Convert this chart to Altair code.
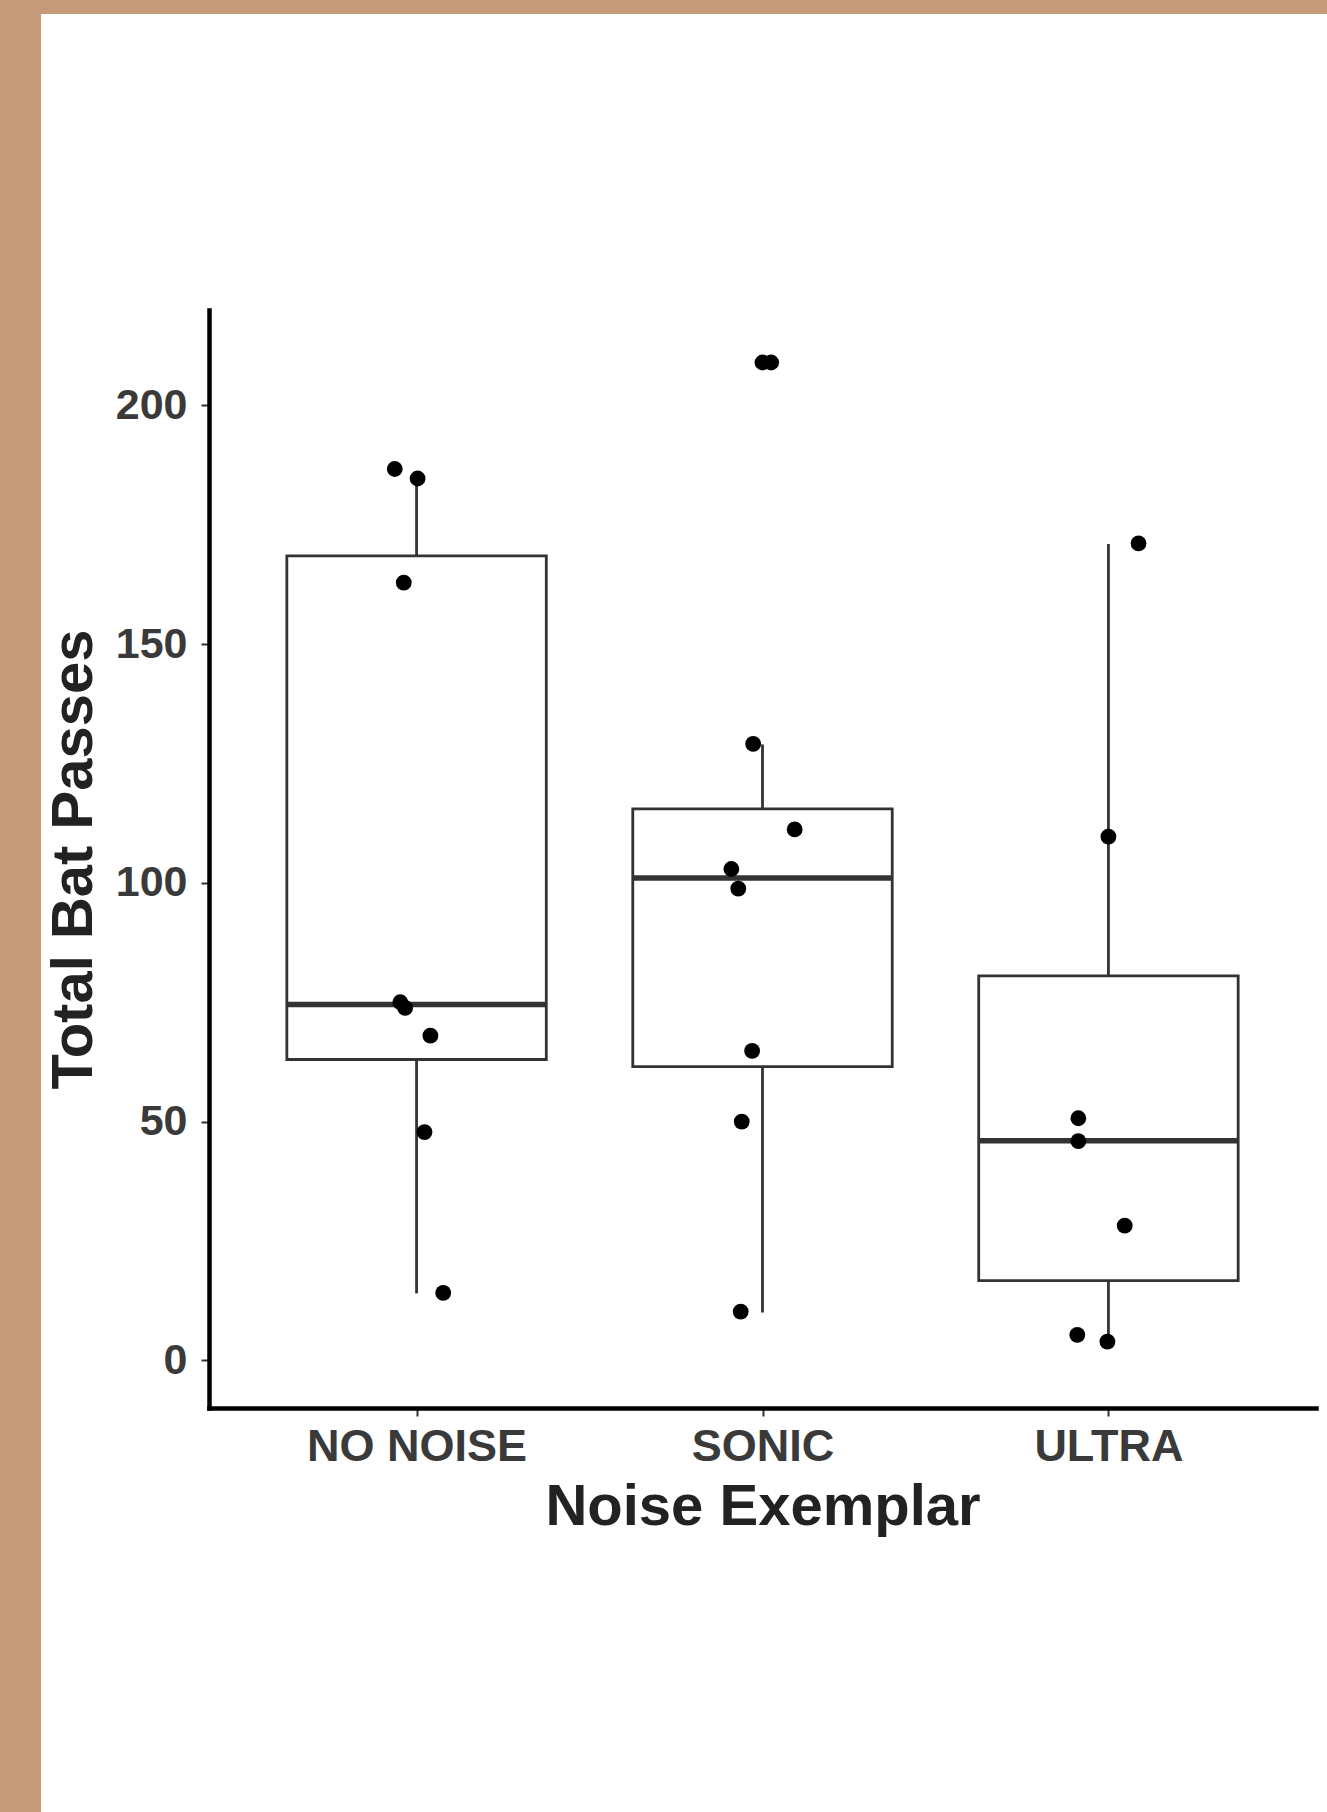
import altair as alt
import pandas as pd

# ---- data ----
categories = ["NO NOISE", "SONIC", "ULTRA"]
whisker_low = [14, 10, 4]
box_q1 = [63, 61.5, 16.7]
box_median = [74.5, 101, 46]
box_q3 = [168.5, 115.5, 80.5]
whisker_high = [185, 129, 171]

pt_group = ["NO NOISE"] * 8 + ["SONIC"] * 8 + ["ULTRA"] * 7
pt_jitter = [-0.063, 0.003, -0.037, -0.047, -0.033, 0.040, 0.023, 0.077,
             0.025, -0.027, 0.093, -0.090, -0.070, -0.030, -0.060, -0.063,
             0.087, 0.000, -0.087, -0.087, 0.047, -0.090, -0.003]
pt_value = [186.7, 184.7, 162.9, 75.0, 73.8, 68.0, 47.8, 14.1,
            209.0, 129.1, 111.2, 102.9, 98.8, 64.8, 50.0, 10.2,
            171.1, 109.7, 50.7, 45.9, 28.2, 5.3, 3.9]

outlier_group = ["SONIC"]
outlier_value = [209.0]

y_ticks = [0, 50, 100, 150, 200]

# ---- tables ----
BOX_HALF = 0.375
pos = {c: i + 1 for i, c in enumerate(categories)}

box_df = pd.DataFrame({
    "group": categories,
    "x": [pos[c] for c in categories],
    "xl": [pos[c] - BOX_HALF for c in categories],
    "xr": [pos[c] + BOX_HALF for c in categories],
    "wlo": whisker_low,
    "q1": box_q1,
    "med": box_median,
    "q3": box_q3,
    "whi": whisker_high,
})
pts_df = pd.DataFrame({
    "group": pt_group,
    "x": [pos[g] + j for g, j in zip(pt_group, pt_jitter)],
    "value": pt_value,
})
out_df = pd.DataFrame({
    "group": outlier_group,
    "x": [pos[g] for g in outlier_group],
    "value": outlier_value,
})

FONT = "Liberation Sans, Arial, Helvetica, sans-serif"
LINE = "#333333"

label_expr = "[" + ",".join("'" + c + "'" for c in categories) + "][datum.value - 1]"

x_scale = alt.Scale(domain=[0.4, 3.6], nice=False, zero=False)
y_scale = alt.Scale(domain=[-10, 220], nice=False, zero=False)

x_axis = alt.Axis(
    values=[1, 2, 3], labelExpr=label_expr, title="Noise Exemplar",
    grid=False, domainColor="black", domainWidth=4.5, domainCap="square",
    tickColor=LINE, tickWidth=2, tickSize=8,
    labelFont=FONT, labelFontWeight="bold", labelFontSize=45, labelColor="#3a3a3a",
    labelBaseline="alphabetic", labelPadding=44, labelFlush=False, labelOverlap=False,
    labelLimit=0,
    titleFont=FONT, titleFontWeight="bold", titleFontSize=58, titleColor="#222222",
    titleBaseline="alphabetic", titleY=116, zindex=1,
)
y_axis = alt.Axis(
    values=y_ticks, title="Total Bat Passes", grid=False,
    domainColor="black", domainWidth=4.5, domainCap="square",
    tickColor=LINE, tickWidth=2, tickSize=8,
    labelFont=FONT, labelFontWeight="bold", labelFontSize=43, labelColor="#3a3a3a",
    labelPadding=14, labelFlush=False, labelOverlap=False, labelLimit=0,
    titleFont=FONT, titleFontWeight="bold", titleFontSize=58, titleColor="#222222",
    titleAngle=270, titleX=-135, titleY=549, titleBaseline="middle", titleAlign="center",
    zindex=1,
)

# white page panel over the tan backdrop
page = alt.Chart(alt.Data(values=[{"a": 1}])).mark_rect(fill="white").encode(
    x=alt.value(-168), x2=alt.value(1118), y=alt.value(-296), y2=alt.value(1502)
)

base_box = alt.Chart(box_df)

whisk_lo = base_box.mark_rule(color=LINE, strokeWidth=2.8).encode(
    x=alt.X("x:Q", scale=x_scale, axis=x_axis),
    y=alt.Y("wlo:Q", scale=y_scale, axis=y_axis),
    y2="q1:Q",
)
whisk_hi = base_box.mark_rule(color=LINE, strokeWidth=2.8).encode(
    x=alt.X("x:Q", scale=x_scale, axis=x_axis),
    y=alt.Y("q3:Q", scale=y_scale, axis=y_axis),
    y2="whi:Q",
)
boxes = base_box.mark_rect(fill="white", stroke=LINE, strokeWidth=2.8).encode(
    x=alt.X("xl:Q", scale=x_scale, axis=x_axis),
    x2="xr:Q",
    y=alt.Y("q1:Q", scale=y_scale, axis=y_axis),
    y2="q3:Q",
)
medians = base_box.mark_rule(color=LINE, strokeWidth=5.5).encode(
    x=alt.X("xl:Q", scale=x_scale, axis=x_axis),
    x2="xr:Q",
    y=alt.Y("med:Q", scale=y_scale, axis=y_axis),
)
outliers = alt.Chart(out_df).mark_circle(size=250, color="black", opacity=1).encode(
    x=alt.X("x:Q", scale=x_scale, axis=x_axis),
    y=alt.Y("value:Q", scale=y_scale, axis=y_axis),
)
points = alt.Chart(pts_df).mark_circle(size=250, color="black", opacity=1).encode(
    x=alt.X("x:Q", scale=x_scale, axis=x_axis),
    y=alt.Y("value:Q", scale=y_scale, axis=y_axis),
)

chart = alt.layer(page, whisk_lo, whisk_hi, boxes, medians, outliers, points).properties(
    width=1107,
    height=1098,
    autosize=alt.AutoSizeParams(type="none"),
    padding={"left": 209, "top": 310, "right": 11, "bottom": 404},
    background="#C49A7A",
).configure_view(stroke=None)

chart.save("out.html", embed_options={"renderer": "svg", "actions": False})
